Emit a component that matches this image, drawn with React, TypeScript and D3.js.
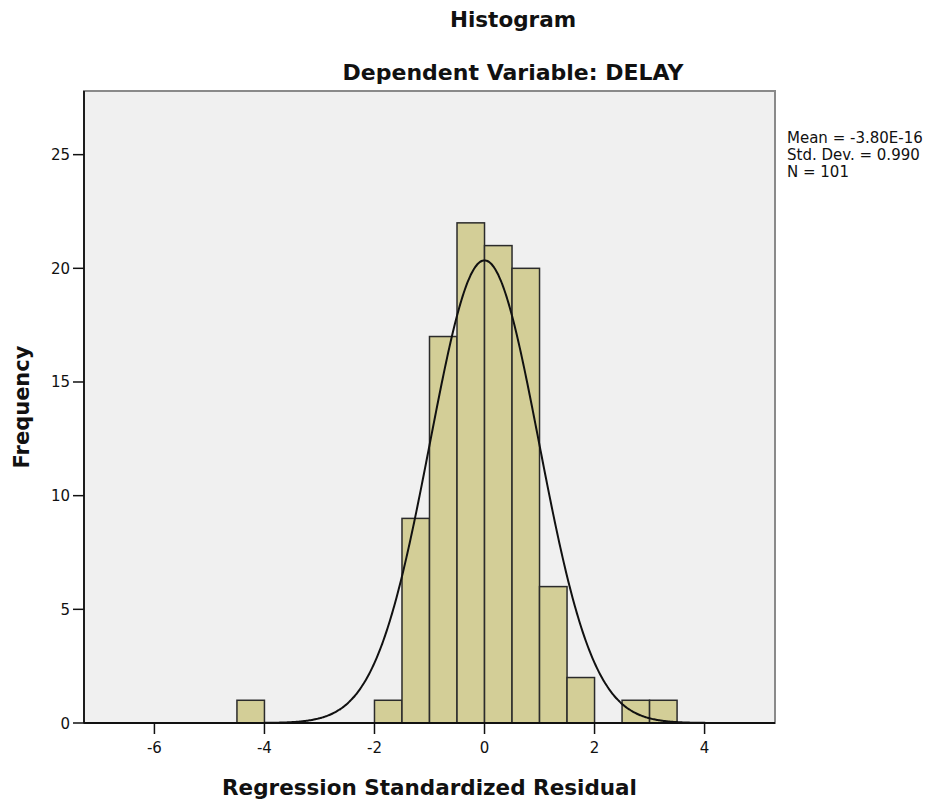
import * as d3 from "d3";

// histogram bins (left edge) and counts, bin width 0.5
const binStarts = [-4.5, -2, -1.5, -1, -0.5, 0, 0.5, 1, 1.5, 2.5, 3];
const binCounts = [1, 1, 9, 17, 22, 21, 20, 6, 2, 1, 1];
const binWidth = 0.5;

const xTicks = [-6, -4, -2, 0, 2, 4];
const yTicks = [0, 5, 10, 15, 20, 25];

const mean = -3.8e-16;
const stdDev = 0.99;
const n = 101;
const statLines = ["Mean = -3.80E-16", "Std. Dev. = 0.990", "N = 101"];

const width = 934;
const height = 805;
const margin = { top: 91, right: 159, bottom: 82, left: 84 };
const font = "'DejaVu Sans', sans-serif";

export default function App() {
  const x = d3
    .scaleLinear()
    .domain([-7.28, 5.28])
    .range([margin.left, width - margin.right]);
  const y = d3
    .scaleLinear()
    .domain([0, 27.8])
    .range([height - margin.bottom, margin.top]);

  const x0 = margin.left;
  const x1 = width - margin.right;
  const y0 = height - margin.bottom;
  const y1 = margin.top;

  const pdf = (v: number) =>
    (n * binWidth * Math.exp(-((v - mean) ** 2) / (2 * stdDev * stdDev))) /
    (stdDev * Math.sqrt(2 * Math.PI));
  const curveXs = d3.range(-4, 5.2, 0.02);
  const line = d3
    .line<number>()
    .x((d) => x(d))
    .y((d) => y(pdf(d)))
    .curve(d3.curveBasis);

  return (
    <svg
      width={width}
      height={height}
      style={{ position: "absolute", left: 0, top: 0, background: "#fff" }}
    >
      <rect x={x0} y={y1} width={x1 - x0} height={y0 - y1} fill="#f0f0f0" stroke="#8a8a8a" strokeWidth={2} />

      {binStarts.map((b, i) => (
        <rect
          key={i}
          x={x(b)}
          y={y(binCounts[i])}
          width={x(b + binWidth) - x(b)}
          height={y(0) - y(binCounts[i])}
          fill="#d3ce97"
          stroke="#2b2b2b"
          strokeWidth={1.5}
        />
      ))}

      <path d={line(curveXs) || ""} fill="none" stroke="#111" strokeWidth={2} />

      {/* axes */}
      <line x1={x0} x2={x0} y1={y1} y2={y0} stroke="#111" strokeWidth={1.8} />
      <line x1={x0} x2={x1} y1={y0} y2={y0} stroke="#111" strokeWidth={1.8} />

      {yTicks.map((t) => (
        <g key={t}>
          <line x1={x0 - 11} x2={x0} y1={y(t)} y2={y(t)} stroke="#111" strokeWidth={1.5} />
          <text x={x0 - 14} y={y(t) + 5.5} textAnchor="end" fontFamily={font} fontSize={15} fill="#111">
            {t}
          </text>
        </g>
      ))}
      {xTicks.map((t) => (
        <g key={t}>
          <line x1={x(t)} x2={x(t)} y1={y0} y2={y0 + 11} stroke="#111" strokeWidth={1.5} />
          <text x={x(t)} y={753} textAnchor="middle" fontFamily={font} fontSize={15} fill="#111">
            {t}
          </text>
        </g>
      ))}

      <text x={513} y={27} textAnchor="middle" fontFamily={font} fontWeight="bold" fontSize={21.5} fill="#111">
        Histogram
      </text>
      <text x={513} y={80} textAnchor="middle" fontFamily={font} fontWeight="bold" fontSize={22} fill="#111">
        Dependent Variable: DELAY
      </text>
      <text x={(x0 + x1) / 2} y={795} textAnchor="middle" fontFamily={font} fontWeight="bold" fontSize={21.5} fill="#111">
        Regression Standardized Residual
      </text>
      <text
        transform={`translate(29,${(y0 + y1) / 2}) rotate(-90)`}
        textAnchor="middle"
        fontFamily={font}
        fontWeight="bold"
        fontSize={21}
        fill="#111"
      >
        Frequency
      </text>

      {statLines.map((s, i) => (
        <text key={s} x={787} y={143 + i * 17} fontFamily={font} fontSize={15} fill="#111">
          {s}
        </text>
      ))}
    </svg>
  );
}
